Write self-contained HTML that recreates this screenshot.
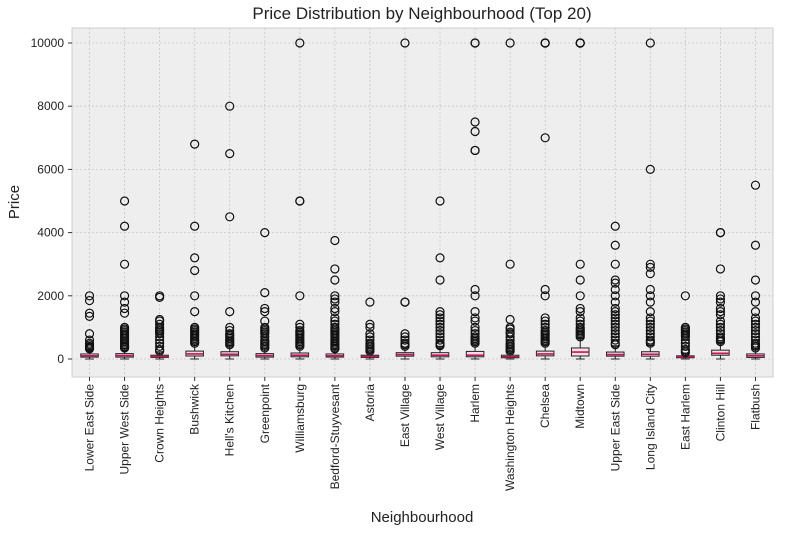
<!DOCTYPE html>
<html><head><meta charset="utf-8"><style>
body{margin:0;background:#fff;}
text{font-family:"Liberation Sans","DejaVu Sans",sans-serif;fill:#222;}
</style></head><body>
<svg id="chart" width="792" height="528" xmlns="http://www.w3.org/2000/svg">
<text x="422" y="19" font-size="17" text-anchor="middle">Price Distribution by Neighbourhood (Top 20)</text>
<rect x="72" y="28" width="701" height="349" fill="#eeeeee" stroke="#cfcfcf" stroke-width="1"/>
<g id="grid"></g><g id="marks"></g><g id="axes"></g>
<text transform="translate(19,202) rotate(-90)" font-size="15" text-anchor="middle">Price</text>
<text x="422" y="522" font-size="15" text-anchor="middle">Neighbourhood</text>
</svg>
<script>
const categories=["Lower East Side","Upper West Side","Crown Heights","Bushwick","Hell's Kitchen","Greenpoint","Williamsburg","Bedford-Stuyvesant","Astoria","East Village","West Village","Harlem","Washington Heights","Chelsea","Midtown","Upper East Side","Long Island City","East Harlem","Clinton Hill","Flatbush"];
const q1=[60,60,50,95,100,60,70,60,50,90,70,70,40,100,95,90,90,40,120,50];
const medians=[100,110,80,160,150,110,120,100,80,140,120,120,75,160,220,140,150,70,180,100];
const q3=[160,170,120,250,230,170,190,160,120,200,200,240,120,250,350,220,230,100,280,160];
const whiskerLow=[0,0,0,0,0,0,0,0,0,0,0,0,0,0,0,0,0,0,0,0];
const whiskerHigh=[300,330,230,480,420,330,380,300,220,370,400,480,230,470,650,420,430,180,510,320];
const fliers=[
[2000,1850,1450,1350,800,600,500,450,400,380,350,320],
[5000,4200,3000,2000,1800,1600,1450,1000,950,900,850,800,750,700,650,600,550,500,450,400,375,350],
[2000,1950,1250,1200,1100,1000,950,900,850,800,700,600,500,400,300,250],
[6800,4200,3200,2800,2000,1500,1000,950,900,850,800,750,700,650,600,550,500],
[8000,6500,4500,1500,1000,900,800,750,700,650,600,550,500,450],
[4000,2100,1600,1500,1200,1000,950,900,850,800,700,600,550,500,450,400,350],
[10000,5000,5000,2000,1100,1000,900,850,800,750,700,650,600,550,500,450,400],
[3750,2850,2500,2000,1900,1800,1600,1500,1300,1200,1100,1000,950,900,850,800,750,700,650,600,550,500,450,400,350,320],
[1800,1100,1000,800,700,600,500,450,400,350,300,250],
[10000,1800,1800,800,700,600,500,450,400],
[5000,3200,2500,1500,1400,1300,1200,1100,1000,900,800,700,600,500,450,420],
[10000,10000,7500,7200,6600,6600,2200,2000,1500,1300,1200,1000,900,800,700,650,600,550,500],
[10000,3000,1250,1000,950,850,800,700,600,500,450,400,350,300,250],
[10000,10000,10000,7000,2200,2000,1300,1200,1100,1000,900,850,800,750,700,650,600,550,500],
[10000,10000,10000,10000,3000,2500,2000,1600,1500,1300,1200,1100,1000,950,900,850,800,750,700],
[4200,3600,3000,2500,2400,2200,2000,1800,1600,1500,1400,1300,1200,1100,1000,900,800,700,600,500,450],
[10000,6000,3000,2900,2700,2200,2000,1800,1500,1300,1200,1100,1000,900,800,700,600,550,500],
[2000,1000,950,900,850,800,750,700,600,500,400,300,250,200],
[4000,4000,2850,2000,1900,1800,1600,1500,1400,1200,1100,1000,900,800,700,650,600,550],
[5500,3600,2500,2000,1800,1500,1300,1200,1100,1000,900,800,700,600,500,450,400,350]
];
const yTicks=[0,2000,4000,6000,8000,10000];

const NS="http://www.w3.org/2000/svg";
const L=72,R=773,T=28,B=377;
const bw=(R-L)/categories.length;
function xs(i){return L+bw*(i+0.5);}
function ys(v){return 359-v*(359-43)/10000;}
function mk(tag,attrs,parent){const e=document.createElementNS(NS,tag);for(const k in attrs)e.setAttribute(k,attrs[k]);parent.appendChild(e);return e;}
const grid=document.getElementById('grid'),marks=document.getElementById('marks'),axes=document.getElementById('axes');
yTicks.forEach(t=>{
  const y=ys(t);
  const g=mk('line',{x1:L,x2:R,y1:y,y2:y,stroke:'#c8c8c8','stroke-dasharray':'2,2','stroke-width':0.8},grid);
  
  
  mk('line',{x1:L-4,x2:L,y1:y,y2:y,stroke:'#333'},axes);
  const tx=mk('text',{x:L-8,y:y+4,'font-size':12,'text-anchor':'end'},axes);
  tx.textContent=t;
  
  
});
categories.forEach((c,i)=>{
  const x=xs(i);
  const g=mk('line',{x1:x,x2:x,y1:T,y2:B,stroke:'#c8c8c8','stroke-dasharray':'2,2','stroke-width':0.8},grid);
  
  
  mk('line',{x1:x,x2:x,y1:B,y2:B+4,stroke:'#333'},axes);
  const tx=mk('text',{transform:`translate(${x+4},${B+7}) rotate(-90)`,'font-size':12,'text-anchor':'end'},axes);
  tx.textContent=c;
  
  
  const grp=mk('g',{},marks);
  
  
  const hw=bw*0.25,cw=bw*0.125;
  mk('line',{x1:x,x2:x,y1:ys(q3[i]),y2:ys(whiskerHigh[i]),stroke:'#222'},grp);
  mk('line',{x1:x,x2:x,y1:ys(q1[i]),y2:ys(whiskerLow[i]),stroke:'#222'},grp);
  mk('line',{x1:x-cw,x2:x+cw,y1:ys(whiskerHigh[i]),y2:ys(whiskerHigh[i]),stroke:'#222'},grp);
  mk('line',{x1:x-cw,x2:x+cw,y1:ys(whiskerLow[i]),y2:ys(whiskerLow[i]),stroke:'#222'},grp);
  mk('rect',{x:x-hw,y:ys(q3[i]),width:2*hw,height:Math.max(1,ys(q1[i])-ys(q3[i])),fill:'#f7dde4',stroke:'#222'},grp);
  mk('line',{x1:x-hw,x2:x+hw,y1:ys(medians[i]),y2:ys(medians[i]),stroke:'#C2185B','stroke-width':1.6},grp);
  fliers[i].forEach(v=>{
    const ci=mk('circle',{cx:x,cy:ys(v),r:4,fill:'none',stroke:'#111','stroke-width':1.2},grp);
    
    
  });
});
</script>
</body></html>
